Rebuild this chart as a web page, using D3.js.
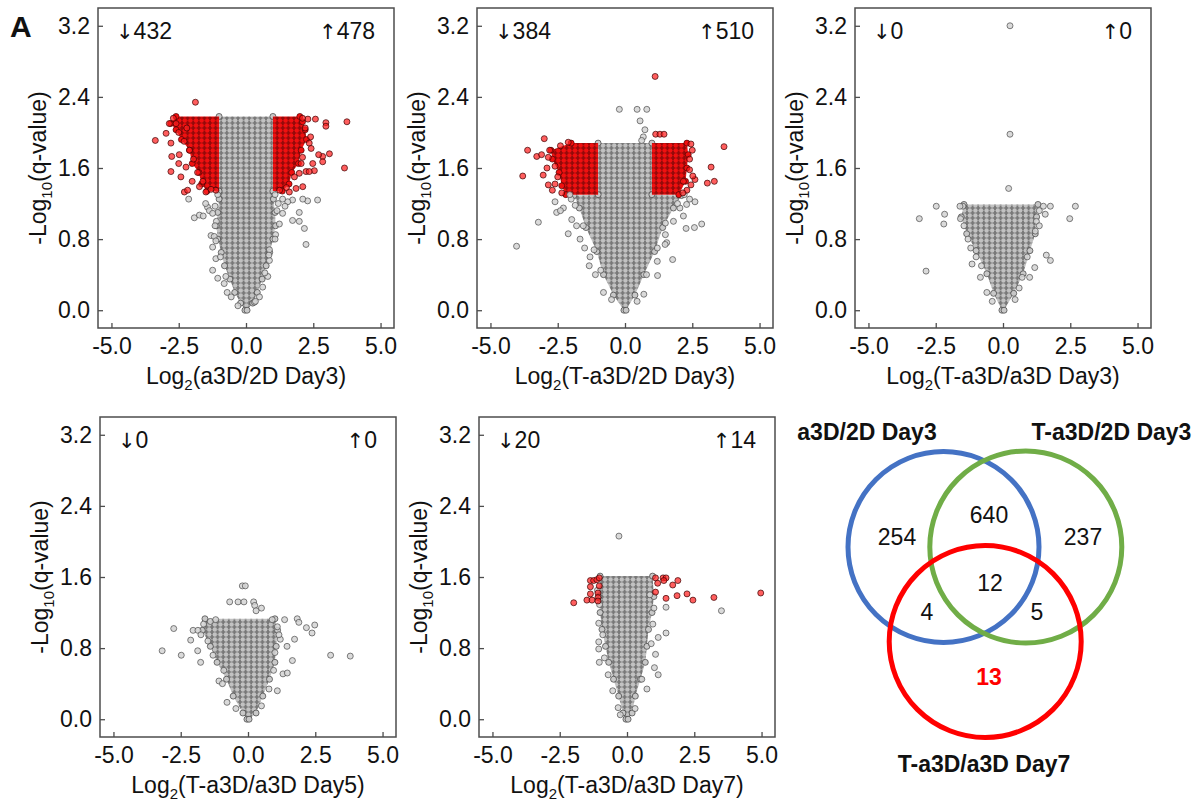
<!DOCTYPE html>
<html>
<head>
<meta charset="utf-8">
<script src="https://cdn.jsdelivr.net/npm/d3@7"></script>
<style>
  body { margin: 0; background: #fff; }
  text { font-family: "Liberation Sans", Arial, sans-serif; fill: #111; }
  .tick text { font-size: 23px; }
  .arrow { font-family: "DejaVu Sans", sans-serif; }
</style>
</head>
<body>
<svg id="fig" width="1204" height="805"></svg>
<script>
// axis ticks shared by every volcano panel
var xTicks = [-5, -2.5, 0, 2.5, 5];
var yTicks = [0, 0.8, 1.6, 2.4, 3.2];

// panel x-axis names and significant counts (down / up)
var xLabels = ['a3D/2D Day3', 'T-a3D/2D Day3', 'T-a3D/a3D Day3', 'T-a3D/a3D Day5', 'T-a3D/a3D Day7'];
var downCounts = [432, 384, 0, 0, 20];
var upCounts = [478, 510, 0, 0, 14];

// outline of the dense grey cloud: [q, xLeft, xRight]
var core1 = [[0, -0.04, 0.04], [0.08, -0.2, 0.25], [0.2, -0.42, 0.42], [0.35, -0.6, 0.6], [0.5, -0.8, 0.75],
  [0.65, -0.92, 0.88], [0.8, -1.05, 1.0], [0.95, -1.1, 1.1], [1.1, -1.05, 1.08], [1.25, -1.0, 1.02],
  [1.34, -1.0, 1.0], [2.18, -1.0, 1.0]];
var core2 = [[0, -0.04, 0.04], [0.17, -0.43, 0.37], [0.4, -0.8, 0.7], [0.66, -1.05, 1.1], [0.93, -1.45, 1.4],
  [1.15, -1.7, 1.8], [1.29, -1.9, 2.1], [1.3, -1.0, 1.0], [1.88, -1.0, 1.0]];
var core3 = [[0, -0.04, 0.04], [0.19, -0.35, 0.4], [0.41, -0.6, 0.75], [0.67, -1.0, 1.0], [0.86, -1.35, 1.2],
  [1.05, -1.55, 1.25], [1.19, -1.45, 1.3]];
var core4 = [[0, -0.04, 0.04], [0.07, -0.19, 0.3], [0.26, -0.55, 0.55], [0.45, -0.8, 0.8], [0.64, -1.15, 1.0],
  [0.82, -1.4, 1.05], [1.0, -1.7, 1.1], [1.13, -1.6, 1.0]];
var core5 = [[0, -0.04, 0.04], [0.07, -0.15, 0.19], [0.26, -0.31, 0.31], [0.45, -0.5, 0.5], [0.64, -0.68, 0.68],
  [0.82, -0.8, 0.74], [1.01, -0.93, 0.8], [1.2, -1.0, 0.93], [1.38, -1.05, 1.0], [1.61, -1.0, 0.95]];

// outline of the dense red (significant) clouds: [q, xInner, xOuter]
var red1L = [[1.34, -1.0, -1.45], [1.42, -1.0, -1.65], [1.55, -1.0, -1.75], [1.65, -1.0, -2.0], [1.8, -1.0, -2.1],
  [1.92, -1.0, -2.4], [2.03, -1.0, -2.6], [2.1, -1.0, -2.8], [2.18, -1.0, -2.6]];
var red1R = [[1.34, 1.0, 1.35], [1.42, 1.0, 1.6], [1.55, 1.0, 1.7], [1.65, 1.0, 1.95], [1.8, 1.0, 2.05],
  [1.92, 1.0, 2.25], [2.03, 1.0, 2.2], [2.12, 1.0, 2.1], [2.18, 1.0, 2.0]];
var red2L = [[1.3, -1.0, -2.2], [1.4, -1.0, -2.35], [1.55, -1.0, -2.45], [1.7, -1.0, -2.7], [1.8, -1.0, -2.75],
  [1.88, -1.0, -2.0]];
var red2R = [[1.3, 1.0, 2.0], [1.45, 1.0, 2.25], [1.6, 1.0, 2.3], [1.75, 1.0, 2.35], [1.88, 1.0, 2.3]];

// single proteins outside the dense clouds: [log2 ratio, -log10 q]
var grey1 = [[-2.13, 1.25], [-1.92, 1.04], [-1.73, 1.07], [-1.59, 1.06], [-1.43, 1.16], [-1.36, 1.12], [-1.24, 1.09],
  [-1.30, 0.84], [-1.18, 0.83], [-1.24, 0.71], [-1.12, 0.58], [-1.24, 0.45], [-1.05, 0.36], [-0.81, 0.30], [-0.7, 0.2],
  [2.66, 1.24], [2.29, 1.23], [2.11, 1.25], [1.73, 1.24], [1.55, 1.22], [1.36, 1.25], [1.98, 1.10], [1.73, 1.01],
  [1.98, 1.00], [2.17, 0.92], [2.23, 0.74], [1.36, 1.09], [1.24, 0.97], [0.87, 0.56], [0.81, 0.38], [0.62, 0.26],
  [0.31, 0.09], [0.87, 0.68], [1.2, 1.2], [1.45, 1.17], [1.1, 0.85], [-1.1, 1.0], [-1.5, 1.2], [-1.15, 0.95],
  [-0.55, 0.15], [0.5, 0.15], [-0.75, 0.38], [0.7, 0.42], [-0.95, 0.6], [0.85, 0.62], [-1.12, 0.78], [1.08, 0.8],
  [-1.15, 1.17], [1.15, 1.12], [-1.05, 1.3], [1.08, 1.3], [-0.3, 0.05], [0.35, 0.1]];
var red1 = [[-1.88, 2.34], [-3.37, 1.91], [-2.97, 1.99], [-2.79, 1.88], [-2.76, 1.73], [-2.79, 1.56], [-2.42, 1.50],
  [-2.29, 1.33], [-2.17, 1.35], [-2.48, 1.75], [-2.23, 1.61], [-1.73, 1.39], [-1.49, 1.33], [-1.12, 1.35], [-2.6, 2.1],
  [-2.2, 2.05], [-2.5, 1.65], [-2.0, 1.45], [-1.8, 1.55], [-2.85, 2.1], [-2.7, 2.16], [-2.3, 1.9], [-1.95, 1.7],
  [-1.6, 1.45], [-1.3, 1.36], [-2.1, 1.8], [-2.5, 2.0],
  [3.75, 2.12], [2.97, 2.11], [2.97, 2.07], [2.58, 2.15], [3.66, 1.60], [3.10, 1.76], [2.85, 1.73], [2.85, 1.67],
  [2.70, 1.75], [2.48, 1.65], [2.54, 1.57], [2.23, 1.56], [2.35, 1.56], [2.11, 1.39], [1.86, 1.37], [1.61, 1.33],
  [2.35, 1.88], [2.42, 1.82], [1.98, 1.54], [2.3, 2.15], [2.1, 2.16], [2.4, 1.95], [2.2, 2.05], [2.1, 1.72],
  [1.8, 1.5], [1.5, 1.38], [2.05, 1.65], [1.25, 1.35]];
var grey2 = [[-0.21, 2.26], [0.45, 2.26], [0.81, 2.26], [0.56, 2.13], [0.74, 2.03], [0.68, 1.95], [0.62, 1.91],
  [-4.03, 0.72], [-3.22, 0.99], [-2.60, 1.22], [-2.54, 1.10], [-2.29, 1.15], [-2.11, 0.86], [-1.67, 0.80], [-1.98, 1.02],
  [-1.30, 0.60], [-1.33, 0.50], [-2.4, 1.12], [-2.0, 1.25], [-1.8, 0.95], [-1.5, 0.7], [-1.1, 0.4], [-0.8, 0.2],
  [2.60, 1.22], [2.85, 0.97], [2.58, 0.93], [2.27, 0.92], [1.55, 0.76], [1.49, 0.74], [1.77, 0.57], [1.21, 0.39],
  [2.04, 1.15], [2.29, 1.19], [2.17, 1.06], [2.4, 1.25], [1.8, 1.0], [1.5, 0.85], [1.2, 0.55], [0.7, 0.18],
  [-0.5, 0.12], [0.45, 0.1], [-0.9, 0.45], [0.8, 0.4], [-1.15, 0.68], [1.2, 0.7], [-1.55, 0.95], [1.5, 0.98],
  [-1.85, 1.18], [1.95, 1.2], [-2.05, 1.3], [2.2, 1.3]];
var red2 = [[1.12, 2.63], [1.14, 1.98], [1.30, 1.98], [1.45, 1.98], [-3.0, 1.93], [-3.62, 1.80], [-3.80, 1.51],
  [-3.28, 1.73], [-3.10, 1.75], [-2.85, 1.72], [-3.04, 1.52], [-2.85, 1.41], [-2.60, 1.42], [-2.11, 1.89], [-2.9, 1.6],
  [-2.7, 1.35], [-2.4, 1.85], [-2.5, 1.5], [-2.35, 1.32], [-2.8, 1.8], [-2.6, 1.62],
  [3.68, 1.84], [3.20, 1.61], [3.32, 1.45], [3.06, 1.43], [2.60, 1.47], [2.45, 1.41], [2.52, 1.51], [2.17, 1.45],
  [2.5, 1.8], [2.4, 1.7], [2.3, 1.35], [2.45, 1.87], [2.4, 1.58], [2.15, 1.32]];
var grey3 = [[0.26, 3.20], [0.26, 1.98], [0.21, 1.37], [-3.11, 1.03], [-2.48, 1.17], [-2.17, 1.08], [-2.20, 0.97],
  [-2.86, 0.44], [-1.49, 1.17], [-1.58, 1.03], [-1.15, 0.52], [-0.84, 0.37], [1.76, 1.17], [2.69, 1.17], [2.48, 1.03],
  [1.57, 1.08], [1.61, 0.62], [1.76, 0.56], [1.18, 0.48], [0.99, 0.37], [0.71, 0.37], [1.24, 1.0], [1.20, 0.89],
  [-1.3, 0.8], [-1.2, 0.7], [-1.0, 0.6], [1.5, 1.17], [1.35, 1.12], [-0.6, 0.2], [0.6, 0.25], [-1.6, 1.17],
  [-1.45, 0.95], [1.35, 0.95], [0.9, 0.6], [-0.8, 0.5], [-0.4, 0.1], [0.45, 0.12]];
var grey4 = [[-0.21, 1.50], [-0.10, 1.50], [-0.68, 1.32], [-0.37, 1.32], [-0.15, 1.32], [0.21, 1.32], [0.25, 1.28],
  [0.5, 1.25], [0.3, 1.22],
  [-3.19, 0.77], [-2.76, 1.02], [-2.48, 0.72], [-2.13, 0.89], [-2.04, 1.00], [-1.86, 1.00], [-1.76, 0.64],
  [-1.87, 0.77], [-1.65, 1.07], [-1.49, 0.88], [-1.08, 0.43], [-0.95, 0.40], [-0.78, 0.19], [-1.4, 1.1], [-1.2, 1.12],
  [1.83, 1.13], [1.89, 1.09], [2.17, 1.03], [2.48, 1.06], [2.38, 0.97], [1.73, 0.90], [1.45, 0.82], [1.36, 1.12],
  [1.09, 1.04], [3.07, 0.72], [3.80, 0.71], [1.65, 0.66], [1.30, 0.51], [1.46, 0.52], [1.09, 0.32], [0.78, 0.34],
  [1.2, 0.9], [1.0, 0.75], [-0.45, 0.12], [0.5, 0.15], [-0.9, 0.55], [0.95, 0.55], [-1.3, 0.72], [1.15, 0.95],
  [-1.75, 0.95], [0.9, 1.12]];
var grey5 = [[-0.30, 2.06], [3.51, 1.22], [1.45, 1.26], [1.45, 0.97], [1.16, 0.92], [1.06, 0.73], [1.16, 0.50],
  [1.02, 0.58], [0.96, 1.07], [-1.05, 1.08], [-1.05, 0.87], [-1.05, 0.79], [-1.03, 0.64], [-0.84, 0.69],
  [-0.53, 0.32], [-0.33, 0.13], [0.74, 0.34], [-1.02, 1.29], [1.0, 1.25], [0.9, 0.85], [-0.7, 0.5],
  [-0.25, 0.05], [0.3, 0.12], [0.55, 0.45], [-0.9, 0.95], [0.85, 1.4], [-1.1, 1.45]];
var red5 = [[-1.98, 1.31], [-1.49, 1.34], [-1.30, 1.34], [-1.36, 1.41], [-1.36, 1.49], [-1.36, 1.56], [-1.24, 1.56],
  [-1.12, 1.57], [-1.03, 1.59], [-1.08, 1.42], [-1.08, 1.37], [-1.08, 1.33], [-1.03, 1.50],
  [1.06, 1.59], [1.34, 1.59], [1.45, 1.59], [1.14, 1.53], [1.37, 1.56], [1.06, 1.43], [1.45, 1.36], [1.70, 1.51],
  [1.89, 1.56], [1.86, 1.39], [2.23, 1.41], [2.45, 1.34], [3.23, 1.37], [4.97, 1.42]];

// venn diagram
var vennSets = ['a3D/2D Day3', 'T-a3D/2D Day3', 'T-a3D/a3D Day7'];
var vennColors = ['#4472c4', '#70ad47', '#ff0000'];
var vennRegions = ['A', 'B', 'AB', 'ABC', 'AC', 'BC', 'C'];
var vennCounts = [254, 237, 640, 12, 4, 5, 13];

var W = 296, H = 320;
var svg = d3.select('#fig');
var defs = svg.append('defs');

// texture that stands in for thousands of overlapping markers
function makeDots(id, fill, stroke, bg) {
  var p = defs.append('pattern').attr('id', id)
    .attr('patternUnits', 'userSpaceOnUse')
    .attr('width', 5.6).attr('height', 5);
  p.append('rect').attr('width', 5.6).attr('height', 5).attr('fill', bg);
  [[0, 0], [5.6, 0], [0, 5], [5.6, 5], [2.8, 2.5]].forEach(function (c) {
    p.append('circle').attr('cx', c[0]).attr('cy', c[1]).attr('r', 2.9)
      .attr('fill', fill).attr('stroke', stroke).attr('stroke-width', 0.7);
  });
}
makeDots('greyDots', '#c2c2c2', '#3c3c3c', '#888');
makeDots('redDots', '#f01010', '#4a0404', '#900');

var panels = [
  { left: 98, top: 8, core: core1, dense: [red1L, red1R], grey: grey1, red: red1 },
  { left: 477, top: 8, core: core2, dense: [red2L, red2R], grey: grey2, red: red2 },
  { left: 855, top: 8, core: core3, dense: [], grey: grey3, red: [] },
  { left: 100, top: 417, core: core4, dense: [], grey: grey4, red: [] },
  { left: 479, top: 417, core: core5, dense: [], grey: grey5, red: red5 }
];

var x = d3.scaleLinear().domain([-5.5, 5.5]).range([0, W]);
var y = d3.scaleLinear().domain([-0.2, 3.4]).range([H, 0]);

function dots(g, data, fill, stroke, opacity) {
  g.append('g').selectAll('circle').data(data).enter().append('circle')
    .attr('cx', function (d) { return x(d[0]); })
    .attr('cy', function (d) { return y(d[1]); })
    .attr('r', 3)
    .attr('fill', fill).attr('fill-opacity', opacity)
    .attr('stroke', stroke).attr('stroke-width', 0.7);
}

panels.forEach(function (p, i) {
  var g = svg.append('g').attr('transform', 'translate(' + p.left + ',' + p.top + ')');

  var cloudArea = d3.area()
    .y(function (d) { return y(d[0]); })
    .x0(function (d) { return x(d[1]); })
    .x1(function (d) { return x(d[2]); });

  // dense grey cloud, with markers on its outline vertices
  g.append('path').datum(p.core).attr('d', cloudArea).attr('fill', 'url(#greyDots)');
  var rim = [];
  p.core.forEach(function (d) { rim.push([d[1], d[0]], [d[2], d[0]]); });
  dots(g, rim, '#c8c8c8', '#3c3c3c', 1);

  // dense red clouds
  p.dense.forEach(function (band) {
    g.append('path').datum(band).attr('d', cloudArea).attr('fill', 'url(#redDots)');
    dots(g, band.map(function (d) { return [d[2], d[0]]; }), '#f01010', '#4a0404', 1);
  });

  dots(g, p.grey, '#d4d4d4', '#4a4a4a', 0.85);
  dots(g, p.red, '#ff2020', '#3a0000', 0.72);

  // axes with inward ticks
  var fmt = function (d) { return d.toFixed(1); };
  var ax = g.append('g').attr('transform', 'translate(0,' + H + ')')
    .call(d3.axisBottom(x).tickValues(xTicks).tickSize(-5).tickPadding(10).tickFormat(fmt));
  var ay = g.append('g')
    .call(d3.axisLeft(y).tickValues(yTicks).tickSize(-5).tickPadding(8).tickFormat(fmt));
  [ax, ay].forEach(function (a) {
    a.attr('font-size', null).attr('font-family', null);
    a.select('.domain').remove();
    a.selectAll('.tick line').attr('stroke', '#4d4d4d').attr('stroke-width', 1.3);
  });

  g.append('rect').attr('width', W).attr('height', H)
    .attr('fill', 'none').attr('stroke', '#4d4d4d').attr('stroke-width', 1.5);

  // counts
  var dn = g.append('text').attr('x', 18).attr('y', 31).attr('font-size', 23);
  dn.append('tspan').attr('class', 'arrow').attr('font-size', 21).text('\u2193');
  dn.append('tspan').text(downCounts[i]);
  var up = g.append('text').attr('x', W - 19).attr('y', 31).attr('font-size', 23).attr('text-anchor', 'end');
  up.append('tspan').attr('class', 'arrow').attr('font-size', 21).text('\u2191');
  up.append('tspan').text(upCounts[i]);

  // x label
  var xl = g.append('text').attr('x', W / 2).attr('y', H + 56)
    .attr('text-anchor', 'middle').attr('font-size', 23);
  xl.append('tspan').text('Log');
  xl.append('tspan').attr('font-size', 15).attr('dy', 6).text('2');
  xl.append('tspan').attr('dy', -6).text('(' + xLabels[i] + ')');

  // y label
  var yl = g.append('text').attr('transform', 'translate(-52,' + (H / 2) + ') rotate(-90)')
    .attr('text-anchor', 'middle').attr('font-size', 23);
  yl.append('tspan').text('-Log');
  yl.append('tspan').attr('font-size', 15).attr('dy', 6).text('10');
  yl.append('tspan').attr('dy', -6).text('(q-value)');
});

// panel letter
svg.append('text').attr('x', 10).attr('y', 37).attr('font-size', 30)
  .attr('font-weight', 'bold').text('A');

// venn diagram
var vennCircles = [
  { cx: 943.5, cy: 547, r: 95.5 },
  { cx: 1025.8, cy: 547, r: 96 },
  { cx: 985.2, cy: 641.5, r: 96 }
];
var vennTitlePos = [[867, 440], [1111.5, 440], [984, 772]];
var regionPos = {
  A: [897, 537], B: [1083, 537], AB: [989, 515], ABC: [990, 583],
  AC: [927, 612], BC: [1037, 612], C: [989, 677]
};

var vg = svg.append('g');
vg.selectAll('circle').data(vennCircles).enter().append('circle')
  .attr('cx', function (d) { return d.cx; })
  .attr('cy', function (d) { return d.cy; })
  .attr('r', function (d) { return d.r; })
  .attr('fill', 'none')
  .attr('stroke', function (d, i) { return vennColors[i]; })
  .attr('stroke-width', 5);

vg.selectAll('.vt').data(vennSets).enter().append('text')
  .attr('x', function (d, i) { return vennTitlePos[i][0]; })
  .attr('y', function (d, i) { return vennTitlePos[i][1]; })
  .attr('text-anchor', 'middle').attr('font-size', 23).attr('font-weight', 'bold')
  .text(function (d) { return d; });

vg.selectAll('.vn').data(vennRegions).enter().append('text')
  .attr('x', function (d) { return regionPos[d][0]; })
  .attr('y', function (d) { return regionPos[d][1]; })
  .attr('dy', '0.35em')
  .attr('text-anchor', 'middle').attr('font-size', 23)
  .attr('font-weight', function (d) { return d === 'C' ? 'bold' : null; })
  .style('fill', function (d) { return d === 'C' ? '#ff0000' : '#111'; })
  .text(function (d, i) { return vennCounts[i]; });
</script>
</body>
</html>
